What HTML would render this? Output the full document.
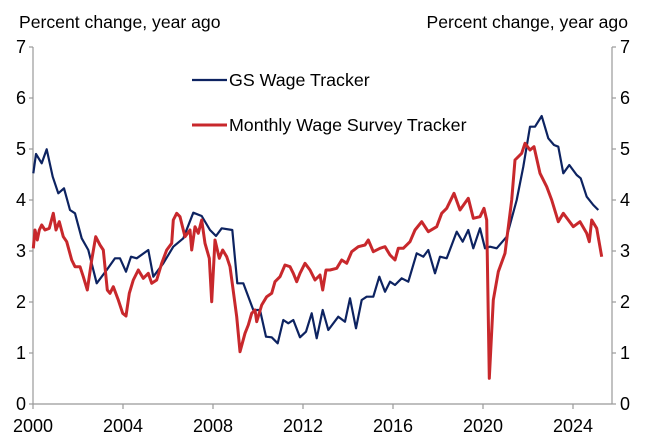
<!DOCTYPE html>
<html><head><meta charset="utf-8"><style>
body{margin:0;background:#fff}
svg text{font-family:"Liberation Sans",Arial,sans-serif;fill:#000}
</style></head><body>
<svg id="c" width="656" height="442" xmlns="http://www.w3.org/2000/svg">
<text x="19" y="28" font-size="17.6">Percent change, year ago</text>
<text x="628" y="28" font-size="17.6" text-anchor="end">Percent change, year ago</text>
<g stroke="#999" stroke-width="1.2" fill="none">
<line x1="33" y1="47" x2="33" y2="404"/>
<line x1="612" y1="47" x2="612" y2="404"/>
<line x1="33" y1="404" x2="612" y2="404"/>
</g>
<g id="ticks" stroke="#999" stroke-width="1.2"></g>
<g id="labels" font-size="18"></g>
<polyline id="blue" fill="none" stroke="#0d2361" stroke-width="2.2" stroke-linejoin="round"/>
<polyline id="red" fill="none" stroke="#c8282c" stroke-width="3" stroke-linejoin="round"/>
<line x1="192" y1="80" x2="227" y2="80" stroke="#0d2361" stroke-width="2.2"/>
<text x="229" y="86" font-size="17.8">GS Wage Tracker</text>
<line x1="192" y1="125" x2="227" y2="125" stroke="#c8282c" stroke-width="3"/>
<text x="229" y="131" font-size="17.8">Monthly Wage Survey Tracker</text>
</svg>
<script>
var ns="http://www.w3.org/2000/svg";
function el(p,t,a,txt){var e=document.createElementNS(ns,t);for(var k in a)e.setAttribute(k,a[k]);if(txt!=null)e.textContent=txt;p.appendChild(e);}
var tk=document.getElementById('ticks'),lb=document.getElementById('labels');
for(var i=0;i<=7;i++){var y=404-i*51;
el(tk,'line',{x1:29,y1:y,x2:33,y2:y});el(tk,'line',{x1:612,y1:y,x2:616,y2:y});
el(lb,'text',{x:26,y:y+6,'text-anchor':'end'},i);el(lb,'text',{x:620,y:y+6},i);}
for(var j=0;j<7;j++){var x=33+j*90;el(tk,'line',{x1:x,y1:404,x2:x,y2:409});
el(lb,'text',{x:x,y:432,'text-anchor':'middle'},2000+4*j);}
function pts(a,b){var s=[];for(var i=0;i<a.length;i+=2)s.push((a[i]/3).toFixed(1)+','+(a[i+1]/3).toFixed(1));
for(var i=0;i<b.length;i+=2)s.push((330+b[i]/3).toFixed(1)+','+(b[i+1]/3).toFixed(1));return s.join(' ');}
var b1=[100,520,108,462,125,490,140,448,158,530,175,580,192,565,210,630,225,640,245,715,265,750,290,850,320,810,345,775,360,775,378,815,393,770,410,775,445,750,460,830,490,790,520,740,550,715,580,638,605,648,630,690,648,708,665,685,697,690,712,850,730,850,760,930,780,930,798,1010,815,1012,833,1030,850,960,865,970,880,960,900,1012,918,995,935,940,950,1015,968,930,985,990];
var b2=[25,950,45,965,60,895,78,985,95,900,110,890,130,890,148,830,165,875,180,845,195,855,215,835,235,845,260,760,280,770,295,750,315,820,330,770,350,775,380,695,398,725,415,690,430,745,450,685,465,745,480,740,500,745,530,710,560,600,580,500,600,380,615,380,635,348,655,415,672,435,685,440,700,520,718,495,740,525,752,535,770,590,790,615,805,630];
var r1=[100,745,105,690,112,720,118,690,125,675,135,690,148,685,160,640,168,690,178,665,190,710,200,725,215,780,225,800,240,800,250,830,262,870,275,780,287,710,300,735,310,750,322,870,330,880,340,860,355,900,368,940,378,948,388,880,400,840,415,810,430,835,445,820,455,850,470,840,485,790,500,750,515,730,520,660,530,640,540,650,555,710,570,690,575,750,585,680,595,700,605,660,615,730,628,775,635,905,645,720,658,775,668,750,680,770,690,800,698,860,710,950,720,1055,735,1000,745,975,755,940,765,930,770,965,785,915,800,890,815,880,825,845,840,830,855,795,870,800,880,820,890,845,900,820,915,790,930,810,945,840,960,825,968,870,978,810,990,810];
var r2=[20,805,35,780,50,790,65,755,85,740,105,735,115,720,130,755,150,745,165,740,180,765,195,780,205,745,220,745,240,725,255,690,275,665,295,695,320,680,335,640,350,625,372,580,390,630,415,595,430,655,450,650,462,625,470,660,478,1135,490,900,505,815,525,760,545,600,555,480,575,460,585,430,600,450,612,440,630,520,650,560,665,600,685,665,700,640,715,660,730,680,750,665,770,700,778,725,785,660,800,685,815,770];
document.getElementById('blue').setAttribute('points',pts(b1,b2));
document.getElementById('red').setAttribute('points',pts(r1,r2));
</script>
</body></html>
